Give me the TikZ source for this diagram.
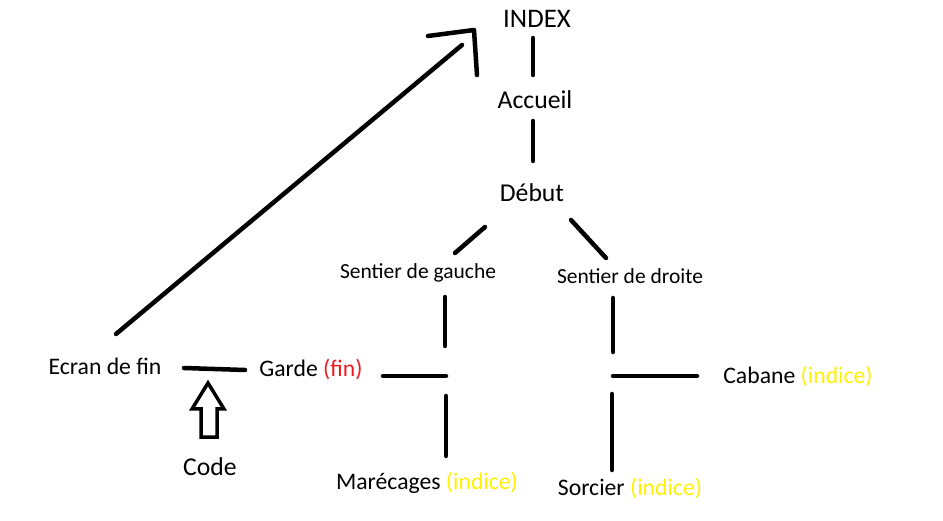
\documentclass[tikz,border=0pt]{standalone}
\usepackage{fontspec}
\setmainfont{Carlito}
\definecolor{fin}{HTML}{ED1C24}
\definecolor{ind}{HTML}{FFF200}
\tikzset{
  stroke/.style={line width=4.5pt, line cap=round, line join=round},
  lbl/.style={inner sep=0pt, anchor=center, font=\fontsize{23.7}{26}\selectfont},
  big/.style={lbl, font=\fontsize{25.7}{28}\selectfont},
  small/.style={lbl, font=\fontsize{21.5}{24}\selectfont}
}
\begin{document}
\begin{tikzpicture}[x=1pt,y=-1pt]
\useasboundingbox[fill=white] (0,0) rectangle (943,521);
% nodes
\node[big, font=\fontsize{26.8}{28}\selectfont] (index) at (537,19) {INDEX};
\node[big] (accueil) at (535,100) {Accueil};
\node[big] (debut) at (532,193) {Début};
\node[small] (sg) at (418,273) {Sentier de gauche};
\node[small] (sd) at (630,276) {Sentier de droite};
\node[lbl] (ecran) at (105,366) {Ecran de fin};
\node[lbl] (garde) at (311,369) {Garde \textcolor{fin}{(fin)}};
\node[big] (code) at (210,467) {Code};
\node[lbl] (mare) at (427,483) {Marécages \textcolor{ind}{(indice)}};
\node[lbl] (sorcier) at (630,488) {Sorcier \textcolor{ind}{(indice)}};
\node[lbl] (cabane) at (798,376) {Cabane \textcolor{ind}{(indice)}};
% connectors
\draw[stroke] (533,38) -- (533,75);
\draw[stroke] (533,121) -- (533,161);
\draw[stroke] (485,227) -- (455,253);
\draw[stroke] (571,220) -- (606,258);
\draw[stroke] (445,297) -- (445,346);
\draw[stroke] (383,376) -- (446,376);
\draw[stroke] (446,396) -- (446,456);
\draw[stroke] (613,298) -- (613,352);
\draw[stroke] (613,376) -- (697,376);
\draw[stroke] (612,394) -- (612,470);
\draw[stroke] (184,368) -- (245,370);
% long arrow to INDEX
\draw[stroke] (116,334) -- (462,45);
\draw[stroke] (428,36) -- (474,30) -- (477,75);
% hollow arrow from Code
\draw[line width=3.5pt, line join=miter] (208,383) -- (224,409) -- (217,409) -- (217,437) -- (201,437) -- (201,409) -- (192,409) -- cycle;
\end{tikzpicture}
\end{document}
